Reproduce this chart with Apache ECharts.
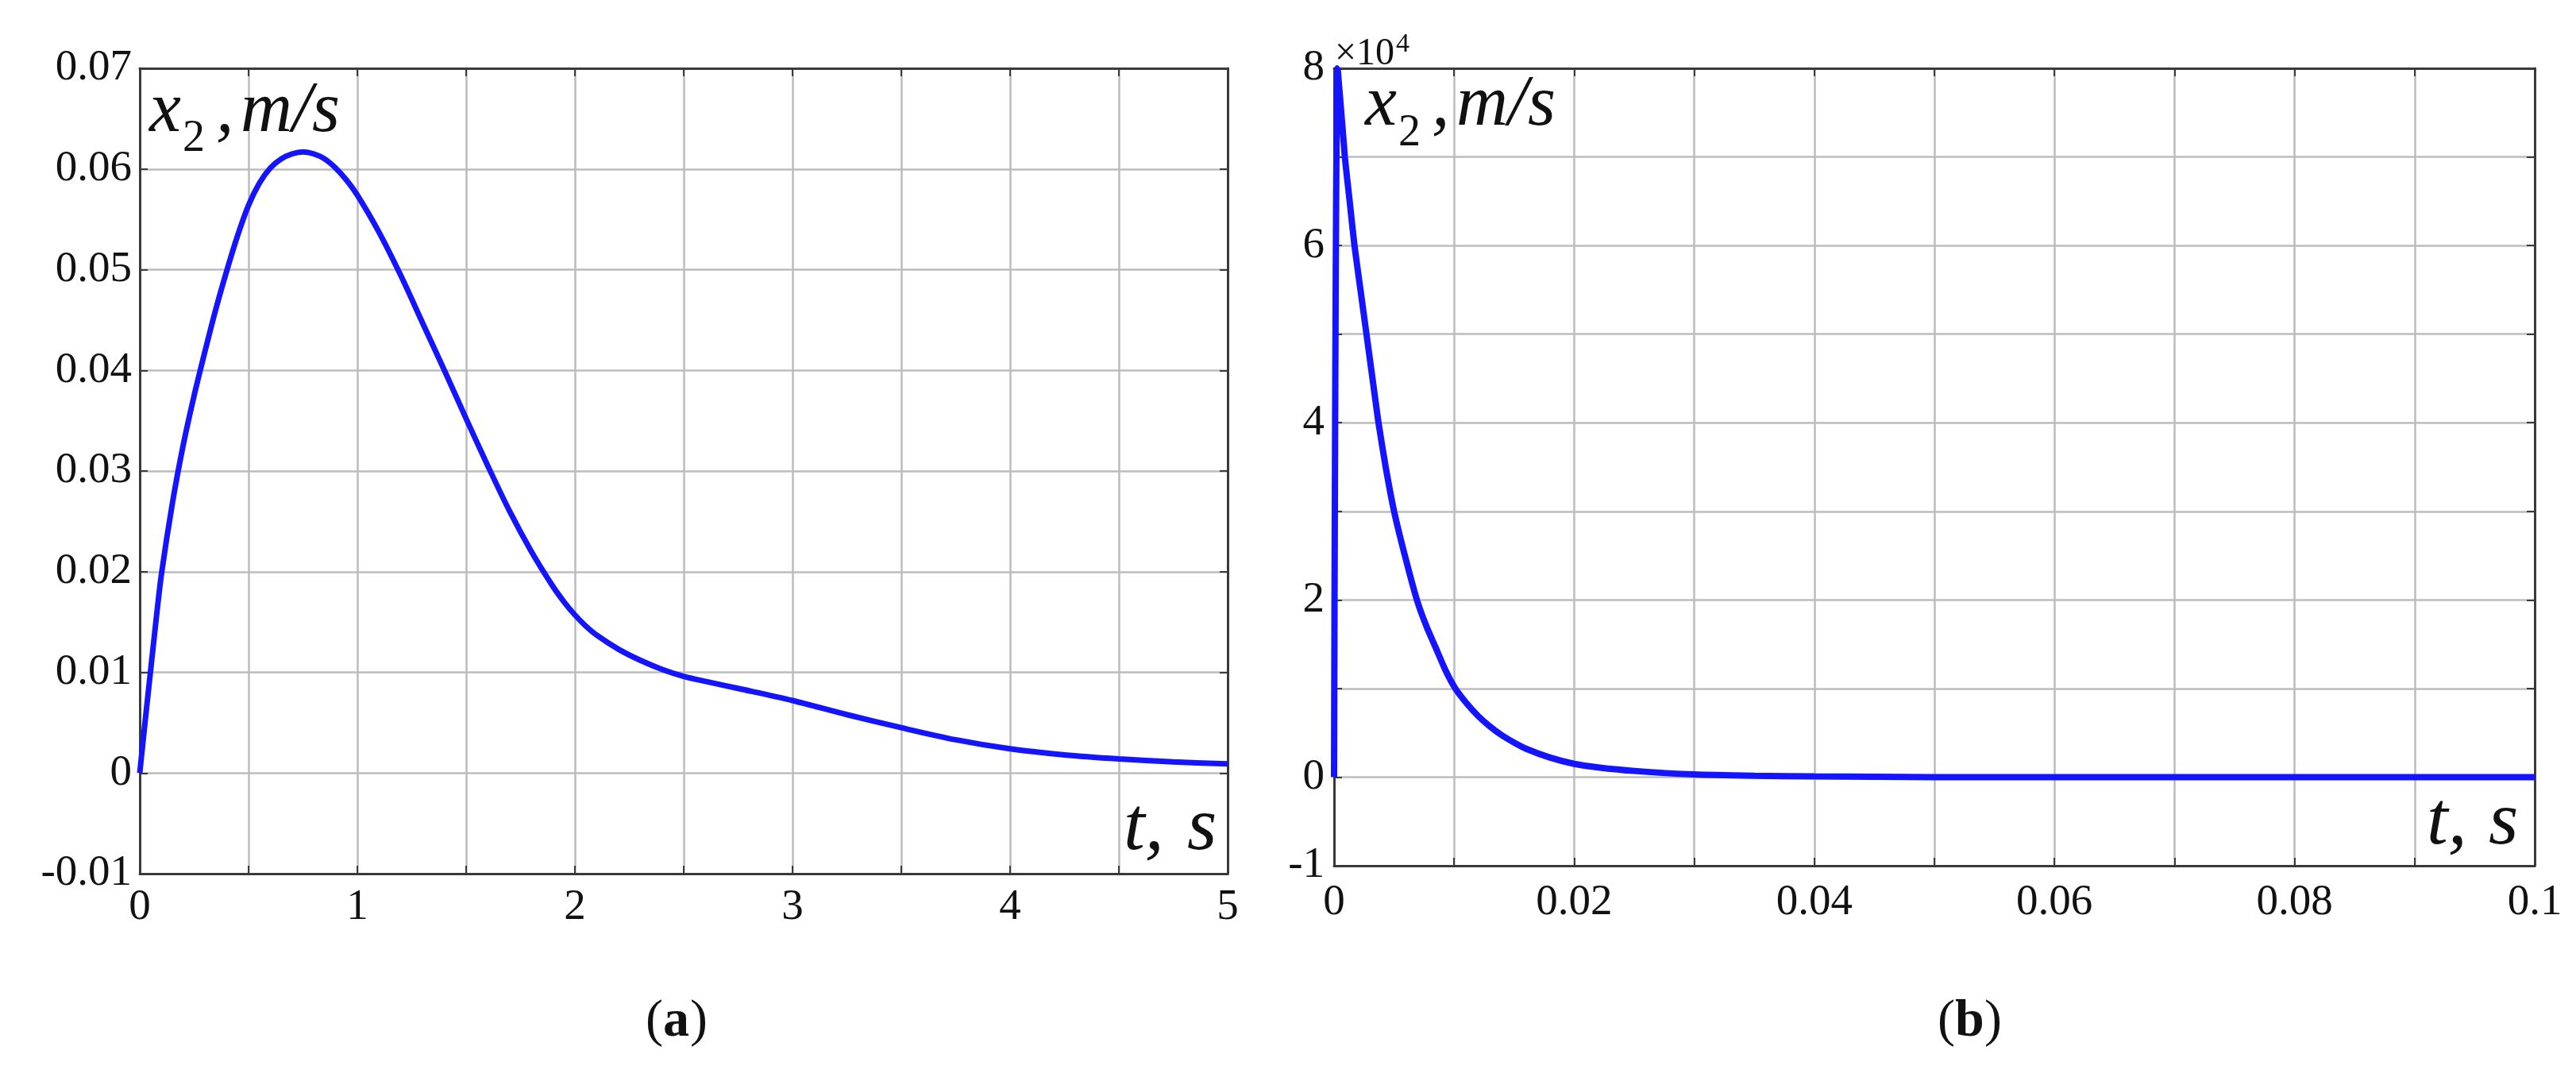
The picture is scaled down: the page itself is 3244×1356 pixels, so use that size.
<html>
<head>
<meta charset="utf-8">
<script src="https://cdn.jsdelivr.net/npm/echarts@6/dist/echarts.min.js"></script>
<style>
  body { margin: 0; background: #fff; }
  #main { width: 3244px; height: 1356px; }
</style>
</head>
<body>
<div id="main"></div>
<script>
// (a) x2 (m/s) against t (s)
var tA = [0, 0.025, 0.05, 0.075, 0.1, 0.15, 0.2, 0.25, 0.3, 0.35, 0.4, 0.45, 0.5, 0.55, 0.6, 0.65, 0.7, 0.75,
  0.8, 0.85, 0.9, 0.95, 1.0, 1.1, 1.2, 1.3, 1.4, 1.5, 1.6, 1.7, 1.8, 1.9, 1.95, 2.0, 2.05, 2.1, 2.2, 2.3, 2.4, 2.5,
  2.6, 2.75, 3.0, 3.25, 3.5, 3.75, 4.0, 4.25, 4.5, 4.75, 5.0];
var vA = [0, 0.0052, 0.0102, 0.0152, 0.0198, 0.0268, 0.0326, 0.0375, 0.0419, 0.0461, 0.0499, 0.0534, 0.0564, 0.0586, 0.0601, 0.0610, 0.0615, 0.0617,
  0.0615, 0.0610, 0.0601, 0.0589, 0.0574, 0.0537, 0.0494, 0.0447, 0.0400, 0.0352, 0.0305, 0.0260, 0.0220, 0.0185, 0.0170, 0.0157, 0.0146, 0.0137, 0.0123, 0.0112, 0.0103, 0.0096,
  0.0091, 0.0084, 0.0072, 0.0058, 0.0045, 0.0033, 0.0024, 0.0018, 0.0014, 0.0011, 0.0009];

// (b) x2 in units of 10^4 m/s against t (s)
var tB = [0, 0.0003, 0.0009, 0.0013, 0.0017, 0.0022, 0.0027, 0.0032, 0.0037, 0.0043, 0.005, 0.0059, 0.0069, 0.0077, 0.0085, 0.0093, 0.0101,
  0.011, 0.012, 0.013, 0.014, 0.015, 0.016, 0.018, 0.02, 0.022, 0.025, 0.03, 0.035, 0.04, 0.05, 0.06, 0.07, 0.08, 0.09, 0.1];
var vB = [0, 8.0, 7.0, 6.5, 6.0, 5.5, 5.0, 4.5, 4.0, 3.5, 3.0, 2.5, 2.0, 1.7, 1.45, 1.2, 1.0,
  0.84, 0.69, 0.57, 0.47, 0.39, 0.32, 0.22, 0.15, 0.11, 0.07, 0.03, 0.015, 0.008, 0, 0, 0, 0, 0, 0];

var FONT = 'Liberation Serif';
var FRAME = '#3a3a3a';

function pairs(xs, ys) {
  var out = [];
  for (var i = 0; i < xs.length; i++) out.push([xs[i], ys[i]]);
  return out;
}

function axis(grid, pos, min, max, step, labels, margin) {
  return {
    type: 'value', gridIndex: grid, position: pos,
    min: min, max: max, interval: step,
    axisLine: { show: true, onZero: false, lineStyle: { color: FRAME, width: 3 } },
    axisTick: { show: true, inside: true, length: 10, lineStyle: { color: FRAME, width: 2 } },
    splitLine: { show: !!labels, lineStyle: { color: '#bcbcbc', width: 2.5 } },
    axisLabel: labels ? {
      show: true, interval: 0, showMinLabel: true, showMaxLabel: true,
      fontFamily: FONT, fontSize: 55, color: '#111', margin: margin, formatter: labels
    } : { show: false }
  };
}

var fmtTA = function (v) { return Math.abs(v - Math.round(v)) < 1e-9 ? String(Math.round(v)) : ''; };
var fmtTB = function (v) { var k = Math.round(v * 100); return k % 2 === 0 ? String(k / 100) : ''; };
var fmtVA = function (v) { var k = Math.round(v * 100); return k === 0 ? '0' : (k / 100).toFixed(2); };
var fmtVB = function (v) { var k = Math.round(v); return (k < 0 || k % 2 === 0) ? String(k) : ''; };

// text placed by its baseline
function txt(x, base, s, size, italic, bold) {
  return { type: 'text', z: 100, x: x, y: base, style: {
    text: s, fill: '#111',
    font: (italic ? 'italic ' : '') + (bold ? 'bold ' : '') + size + 'px "' + FONT + '"',
    verticalAlign: 'bottom', align: 'left' } };
}

var chart = echarts.init(document.getElementById('main'));
chart.setOption({
  animation: false,
  backgroundColor: '#fff',
  grid: [
    { left: 176, top: 86, width: 1370, height: 1014 },
    { left: 1680, top: 86, width: 1512, height: 1004 }
  ],
  xAxis: [
    axis(0, 'bottom', 0, 5, 0.5, fmtTA, 15),
    axis(0, 'top', 0, 5, 0.5, null),
    axis(1, 'bottom', 0, 0.1, 0.01, fmtTB, 19),
    axis(1, 'top', 0, 0.1, 0.01, null)
  ],
  yAxis: [
    axis(0, 'left', -0.01, 0.07, 0.01, fmtVA, 10),
    axis(0, 'right', -0.01, 0.07, 0.01, null),
    axis(1, 'left', -1, 8, 1, fmtVB, 12),
    axis(1, 'right', -1, 8, 1, null)
  ],
  series: [
    { type: 'line', xAxisIndex: 0, yAxisIndex: 0, data: pairs(tA, vA), showSymbol: false,
      smooth: 0.3, lineStyle: { color: '#1414ff', width: 7 } },
    { type: 'line', xAxisIndex: 2, yAxisIndex: 2, data: pairs(tB, vB), showSymbol: false,
      smooth: 0.2, lineStyle: { color: '#1414ff', width: 8 } }
  ],
  graphic: [
    // (a) axis names
    txt(188, 186, 'x', 90, true),
    txt(230, 203, '2', 56),
    txt(272, 186, ',', 90, true),
    txt(303, 186, 'm/s', 90, true),
    txt(1415, 1092, 't,', 96, true),
    txt(1495, 1092, 's', 96, true),
    // (b) axis names
    txt(1719, 178, 'x', 90, true),
    txt(1761, 196, '2', 56),
    txt(1803, 178, ',', 90, true),
    txt(1834, 178, 'm/s', 90, true),
    txt(3056, 1085, 't,', 96, true),
    txt(3134, 1085, 's', 96, true),
    txt(1681, 92, '\u00d710', 48),
    txt(1758, 73, '4', 34),
    // captions
    txt(813, 1320, '(', 66), txt(835, 1320, 'a', 66, false, true), txt(869, 1320, ')', 66),
    txt(2440, 1320, '(', 66), txt(2462, 1320, 'b', 66, false, true), txt(2499, 1320, ')', 66)
  ]
});
</script>
</body>
</html>
